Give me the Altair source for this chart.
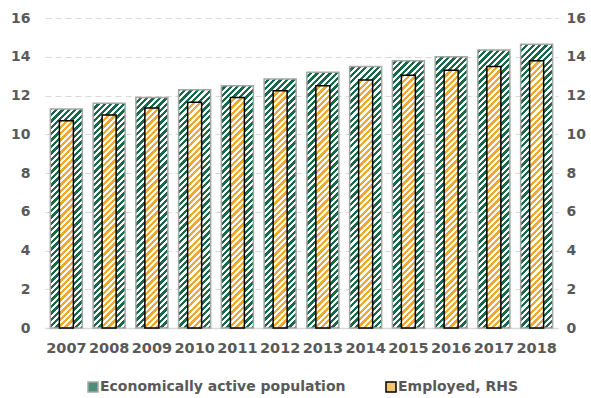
import math
import altair as alt
import pandas as pd

# ---- data ----
years = [str(y) for y in range(2007, 2019)]
active = [11.3, 11.6, 11.9, 12.3, 12.5, 12.85, 13.2, 13.5, 13.8, 14.0, 14.35, 14.65]
employed = [10.7, 11.0, 11.35, 11.65, 11.9, 12.25, 12.5, 12.8, 13.05, 13.3, 13.5, 13.8]
series_names = ["Economically active population", "Employed, RHS"]
y_ticks = list(range(0, 17, 2))

# ---- layout / style ----
W, H = 513, 310
YMAX = 16
PX = H / YMAX          # px per data unit
GREEN = "#17694a"
ORANGE = "#f0a830"
TXT = "#595959"
FONT = "DejaVu Sans"
GW, OW = 32, 14        # bar widths in px
STEP = 6.4             # hatch repeat along x / y, px
SEG = 1.6              # bars are filled in stacked slices (31 px) so the hatch stays crisp


def stripes(w, h, phi, color, frac=0.52):
    """'/' hatch as hard-stop linear gradient in bbox units, phase-shifted by phi px."""
    L = w + h
    s2 = w * w + h * h
    a = w * L / s2
    b = h * L / s2
    on_len = STEP * frac
    off_len = STEP - on_len
    s = -(phi % STEP)
    j = 0
    stops = []
    while s < L:
        seg_len = on_len if j % 2 == 0 else off_len
        s0, s1 = max(s, 0.0), min(s + seg_len, L)
        if s1 > s0:
            col = color if j % 2 == 0 else "#ffffff"
            stops += [{"offset": round(s0 / L, 6), "color": col},
                      {"offset": round(s1 / L, 6), "color": col}]
        s += seg_len
        j += 1
    return {"gradient": "linear", "x1": 0, "y1": 0, "x2": round(a, 6), "y2": round(b, 6), "stops": stops}


def slices(values, w, color):
    rows, grads = [], {}
    for y, v in zip(years, values):
        k = 0
        while k * SEG < v - 1e-9:
            lo = round(k * SEG, 6)
            hi = round(min((k + 1) * SEG, v), 6)
            key = f"f{k}" if hi == round((k + 1) * SEG, 6) else f"p{y}"
            if key not in grads:
                grads[key] = stripes(w, (hi - lo) * PX, (YMAX - hi) * PX, color)
            rows.append({"year": y, "lo": lo, "hi": hi, "seg": key})
            k += 1
    conds = [{"test": f"datum.seg === '{k}'", "value": g} for k, g in grads.items()]
    return pd.DataFrame(rows), alt.FillValue(condition=conds, value=color)


df_a = pd.DataFrame({"year": years, "value": active})
df_e = pd.DataFrame({"year": years, "value": employed})
seg_a, fill_a = slices(active, GW, GREEN)
seg_e, fill_e = slices(employed, OW, ORANGE)
df_leg = pd.DataFrame({"series": series_names})

x_enc = alt.X(
    "year:N",
    title=None,
    scale=alt.Scale(paddingInner=0, paddingOuter=0),
    axis=alt.Axis(
        labelAngle=0, ticks=False, domain=True, domainColor="#d9d9d9", domainWidth=1.5,
        labelFont=FONT, labelFontSize=14.5, labelFontWeight="bold", labelColor=TXT,
        labelPadding=13, grid=False,
    ),
)

common_axis = dict(
    values=y_ticks, ticks=False, domain=False, labelFont=FONT, labelFontSize=14,
    labelFontWeight="bold", labelColor=TXT,
)
left_axis = alt.Axis(orient="left", grid=True, gridColor="#d9d9d9", gridDash=[6, 4],
                     gridWidth=1, labelPadding=15, **common_axis)
right_axis = alt.Axis(orient="right", grid=False, labelPadding=8, **common_axis)


def y_of(field, axis):
    return alt.Y(f"{field}:Q", title=None, scale=alt.Scale(domain=[0, YMAX], nice=False), axis=axis)


# green: hatch slices + outline
green_fill = alt.Chart(seg_a).mark_bar(size=GW, strokeWidth=0).encode(
    x=x_enc, y=y_of("hi", left_axis), y2=alt.Y2("lo:Q"), fill=fill_a,
)
green_line = alt.Chart(df_a).mark_bar(size=GW, fillOpacity=0, stroke="#a6a6a6", strokeWidth=1.5).encode(
    x=x_enc, y=y_of("value", left_axis),
)
green = alt.layer(green_fill, green_line)

# orange: hatch slices + outline
orange_fill = alt.Chart(seg_e).mark_bar(size=OW, strokeWidth=0).encode(
    x=x_enc, y=y_of("hi", right_axis), y2=alt.Y2("lo:Q"), fill=fill_e,
)
orange_line = alt.Chart(df_e).mark_bar(size=OW, fillOpacity=0, stroke="#000000", strokeWidth=1.5).encode(
    x=x_enc, y=y_of("value", right_axis),
)
orange = alt.layer(orange_fill, orange_line)

leg_props = dict(
    title=None, orient="none", direction="horizontal", legendX=41, legendY=362,
    symbolType="square", symbolSize=100, symbolOpacity=1, symbolStrokeWidth=1.5,
    labelFont=FONT, labelFontSize=14, labelFontWeight="bold", labelColor=TXT,
    labelOffset=0, columnPadding=37, padding=0, labelLimit=400,
)

legend_layer = alt.Chart(df_leg).mark_square(opacity=0).encode(
    fill=alt.Fill(
        "series:N",
        scale=alt.Scale(domain=series_names, range=["#4f8d76", "#f5c46e"]),
        legend=alt.Legend(**leg_props),
    ),
    stroke=alt.Stroke(
        "series:N",
        scale=alt.Scale(domain=series_names, range=["#a6a6a6", "#000000"]),
        legend=alt.Legend(**leg_props),
    ),
)

chart = (
    alt.layer(green, orange, legend_layer)
    .resolve_scale(y="independent")
    .properties(
        width=W, height=H,
        padding={"left": 45, "top": 18, "right": 33, "bottom": 70},
        autosize=alt.AutoSizeParams(type="none"),
        background="#ffffff",
    )
    .configure_view(stroke=None)
)

chart.save("out.html", embed_options={"renderer": "svg", "actions": False})
